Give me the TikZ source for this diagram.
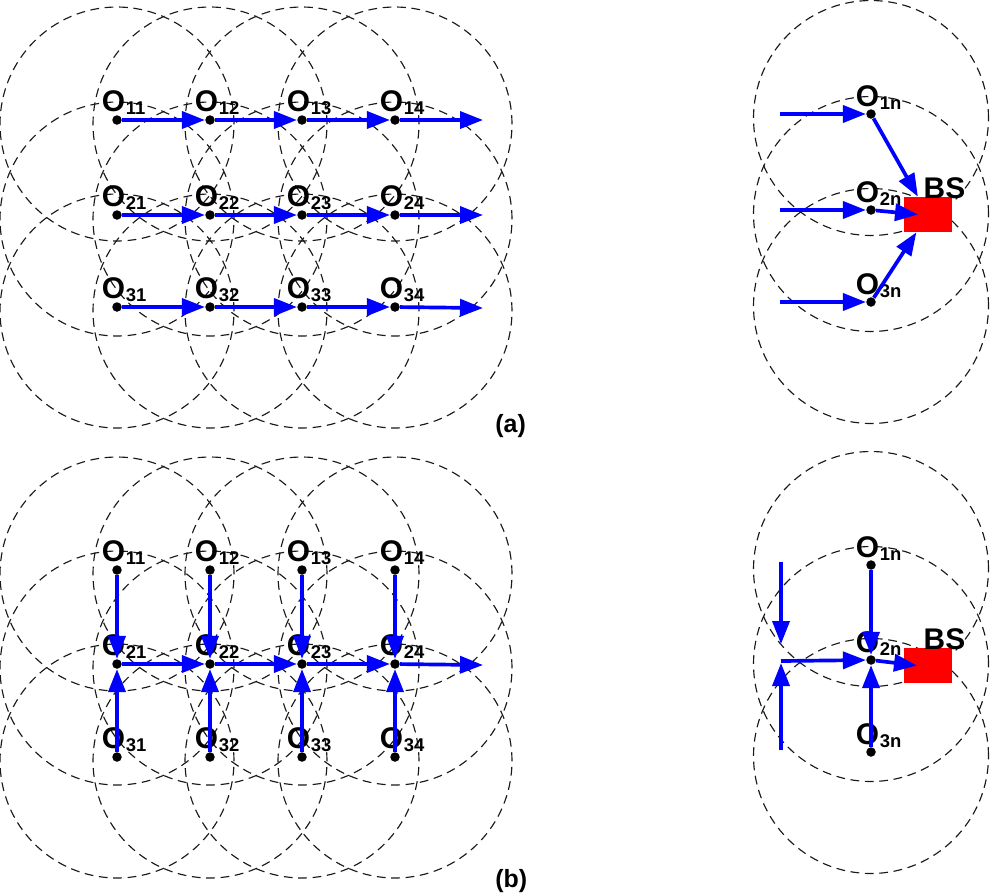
\documentclass[tikz,border=0pt]{standalone}
\usepackage{fontspec}
\setmainfont{Liberation Sans}
\usetikzlibrary{arrows.meta}

\tikzset{
  cell/.style={draw=black!90, dash pattern=on 5pt off 3.2pt, line width=0.65pt},
  dot/.style={circle, fill=black, inner sep=0pt, minimum size=0.19cm},
  flow/.style={draw=blue, line width=2.1pt, -{Triangle[length=0.46cm,width=0.34cm]}},
  olab/.style={anchor=base west, inner sep=0pt, font=\fontsize{17}{18}\selectfont\bfseries},
  bs/.style={fill=red, inner sep=0pt, minimum width=0.96cm, minimum height=0.7cm},
  tag/.style={anchor=base west, inner sep=0pt, font=\fontsize{14.2}{16}\selectfont\bfseries},
}
\newcommand{\onode}[1]{O\kern0.5pt\raisebox{-1.8pt}{\fontsize{10.5}{11}\selectfont\bfseries #1}}

\begin{document}
\begin{tikzpicture}[x=0.02cm, y=-0.02cm]
  \useasboundingbox (0,0) rectangle (990,894);

  % coverage circles
  \foreach \y in {120,215,307,570,664,757}
    \foreach \x in {117,210,302,395}
      \draw[cell] (\x,{\y+4}) circle[radius=2.34cm];
  \foreach \y in {114,210,302,565,660,752}
    \draw[cell] (871,{\y+4}) circle[radius=2.35cm];

  % (a) grid
  \foreach \r/\y in {1/120,2/215,3/307}
    \foreach \c/\x in {1/117,2/210,3/302,4/395} {
      \node[dot] (a\r\c) at (\x,\y) {};
      \node[olab] (la\r\c) at ([xshift=-0.31cm,yshift=0.17cm]a\r\c) {\onode{\r\c}};
    }
  \foreach \r/\y in {1/114,2/210,3/302} {
    \node[dot] (an\r) at (871,\y) {};
    \node[olab] (lan\r) at ([xshift=-0.31cm,yshift=0.15cm]an\r) {\onode{\r n}};
    \coordinate (ain\r) at (780,\y);
  }
  \node[bs] (bsa) at (928,214.5) {};
  \node[olab] (lbsa) at ([xshift=-0.58cm,yshift=-0.04cm]bsa.north east) {BS};
  \coordinate (aout1) at (483,120);
  \coordinate (aout2) at (483,215);
  \coordinate (aout3) at (483,308);

  \foreach \r in {1,2,3} {
    \draw[flow] (a\r1) -- (a\r2);
    \draw[flow] (a\r2) -- (a\r3);
    \draw[flow] (a\r3) -- (a\r4);
    \draw[flow] (a\r4) -- (aout\r);
    \draw[flow] (ain\r) -- (an\r);
  }
  \draw[flow] (an1) -- (bsa);
  \draw[flow] (an2) -- ([xshift=-0.2cm]bsa.center);
  \draw[flow] (an3) -- (bsa);
  \node[tag] (taga) at (495,432) {(a)};

  % (b) grid
  \foreach \r/\y in {1/570,2/664,3/757}
    \foreach \c/\x in {1/117,2/210,3/302,4/395} {
      \node[dot] (b\r\c) at (\x,\y) {};
      \node[olab] (lb\r\c) at ([xshift=-0.31cm,yshift=0.17cm]b\r\c) {\onode{\r\c}};
    }
  \foreach \r/\y in {1/565,2/660,3/752} {
    \node[dot] (bn\r) at (871,\y) {};
    \node[olab] (lbn\r) at ([xshift=-0.31cm,yshift=0.15cm]bn\r) {\onode{\r n}};
  }
  \node[bs] (bsb) at (928,665.5) {};
  \node[olab] (lbsb) at ([xshift=-0.58cm,yshift=-0.04cm]bsb.north east) {BS};
  \coordinate (bout) at (483,665);
  \coordinate (bjn) at (781,661);
  \coordinate (bjt) at (781,562);
  \coordinate (bjb) at (781,750);

  \foreach \c in {1,2,3,4} {
    \draw[flow] (b1\c) -- (b2\c);
    \draw[flow] (b3\c) -- (b2\c);
  }
  \draw[flow] (b21) -- (b22);
  \draw[flow] (b22) -- (b23);
  \draw[flow] (b23) -- (b24);
  \draw[flow] (b24) -- (bout);
  \draw[flow, shorten >=0.34cm] (bjt) -- (bjn);
  \draw[flow, shorten >=0.04cm] (bjb) -- (bjn);
  \draw[flow] (bjn) -- (bn2);
  \draw[flow] (bn1) -- (bn2);
  \draw[flow] (bn3) -- (bn2);
  \draw[flow] (bn2) -- ([xshift=-0.22cm]bsb.center);
  \node[tag] (tagb) at (495,887) {(b)};
\end{tikzpicture}
\end{document}
